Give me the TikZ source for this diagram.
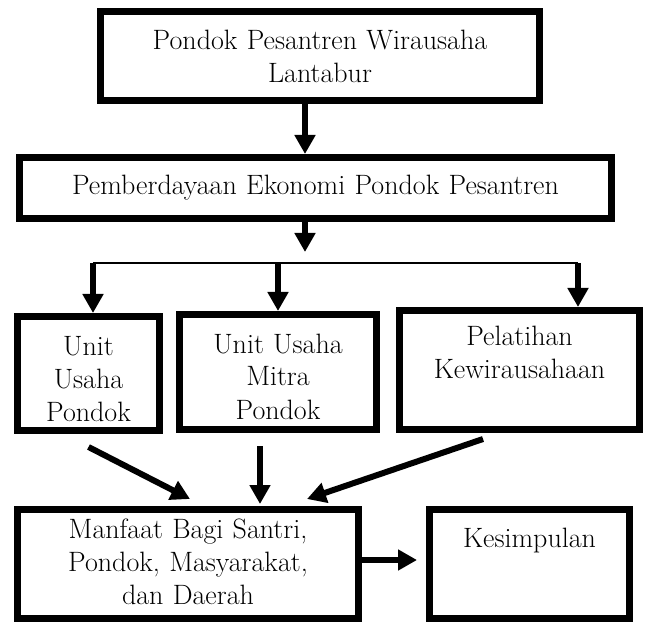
\documentclass[tikz,border=0pt]{standalone}
\usetikzlibrary{arrows.meta}
\usetikzlibrary{positioning}

\begin{document}
\begin{tikzpicture}[x=1pt, y=1pt, node distance=130pt, on grid,
    block/.style={draw, line width=7pt, inner sep=0pt, align=center,
      font=\fontsize{28}{33}\selectfont},
    arr/.style={line width=6pt, -{Triangle[length=19pt,width=20pt]}},
    bus/.style={line width=1.5pt}]
  \useasboundingbox (0,0) rectangle (652,624);

  % Boxes
  \node[block, text width=439pt, text height=38.5pt, text depth=50.5pt] (pesantren) at (320,568)
    {Pondok Pesantren Wirausaha\\ Lantabur};
  \node[block, text width=592pt, text height=37.5pt, text depth=23.5pt] (pemberdayaan)
    [below=132pt of pesantren, xshift=-4.5pt] {Pemberdayaan Ekonomi Pondok Pesantren};
  \node[block, text width=197pt, text height=38.5pt, text depth=76.5pt] (mitra)
    [below=184pt of pemberdayaan, xshift=-37.5pt] {Unit Usaha\\ Mitra\\ Pondok};
  \node[block, text width=142pt, text height=38.5pt, text depth=75.5pt] (unitpondok)
    [left=189.5pt of mitra, yshift=-1.5pt] {Unit\\ Usaha\\ Pondok};
  \node[block, text width=240pt, text height=35.5pt, text depth=83.5pt] (pelatihan)
    [right=241.5pt of mitra, yshift=2pt] {Pelatihan\\ Kewirausahaan};
  \node[block, text width=341pt, text height=28.5pt, text depth=80.5pt] (manfaat)
    [below=192pt of mitra, xshift=-90pt] {Manfaat Bagi Santri,\\ Pondok, Masyarakat,\\ dan Daerah};
  \node[block, text width=200pt, text height=37.5pt, text depth=71.5pt] (kesimpulan)
    [right=341.5pt of manfaat] {Kesimpulan};

  % Branching points
  \coordinate (split) at ([xshift=-10.5pt,yshift=-30pt]pemberdayaan.south);
  \coordinate (busL) at (93,361);
  \coordinate (busR) at (578,361);

  % Top chain
  \draw[arr] ([xshift=-15pt]pesantren.south) -- ([xshift=-15pt]pesantren.south |- pemberdayaan.north);
  \draw[arr] ([xshift=-10.5pt]pemberdayaan.south) -- (split);

  % Bus to the three units
  \draw[bus] (busL) -- (busR);
  \draw[arr] (busL) -- (busL |- unitpondok.north);
  \draw[arr] (busL -| mitra.north) -- (mitra.north);
  \draw[arr] (busR) -- (busR |- pelatihan.north);

  % Units into benefits
  \draw[arr] ([yshift=-13pt]unitpondok.south) -- ([xshift=2pt,yshift=7pt]manfaat.north);
  \draw[arr] ([xshift=-18pt,yshift=-13pt]mitra.south) -- ([xshift=72pt,yshift=2pt]manfaat.north);
  \draw[arr] ([xshift=-36.5pt,yshift=-6pt]pelatihan.south) -- ([xshift=119pt,yshift=7pt]manfaat.north);

  % Benefits to conclusion
  \draw[arr] ([yshift=4pt]manfaat.east) -- ([xshift=-9pt,yshift=4pt]kesimpulan.west);
\end{tikzpicture}
\end{document}
